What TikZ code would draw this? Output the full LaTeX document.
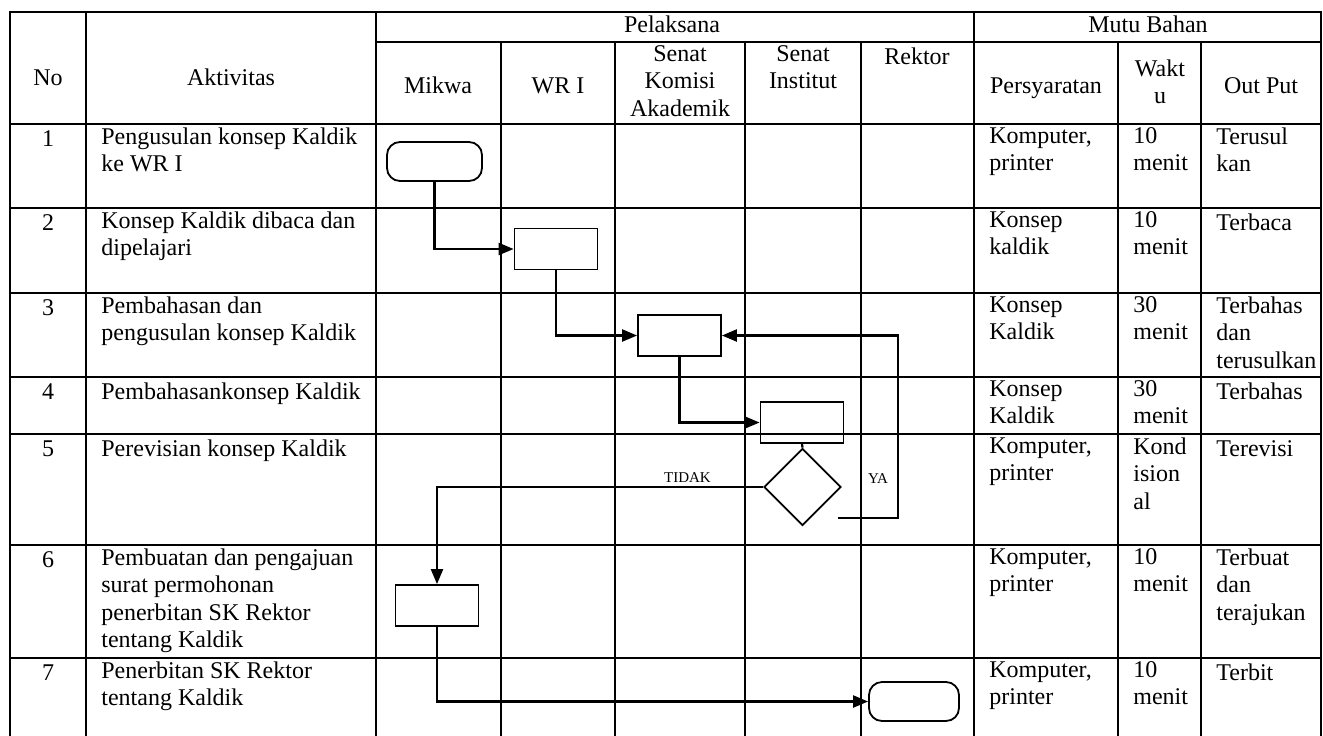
\documentclass[tikz,border=0pt]{standalone}
\usepackage{fontspec}
\setmainfont{Liberation Serif}
\usetikzlibrary{arrows.meta, shapes.geometric}

\begin{document}
\begin{tikzpicture}[
      x=0.5pt, y=-0.5pt,
      grid/.style={line width=1.1pt, line cap=rect},
      celltext/.style={
         font=\fontsize{12}{13.8}\selectfont,
         inner sep=0pt,
         align=left,
         anchor=north west,
         execute at begin node=\strut},
      headtext/.style={celltext, align=center, anchor=center},
      kotak/.style={
         draw,
         line width=0.9pt,
         minimum width=41.5pt,
         minimum height=20.5pt,
         inner sep=0pt},
      terminal/.style={kotak, rounded corners=6.5pt, minimum width=47.5pt, minimum height=19.5pt},
      keputusan/.style={draw, diamond, line width=0.9pt, minimum width=38.5pt, minimum height=38.5pt, inner sep=0pt},
      myarrow/.style={line width=1.1pt, -{Triangle[length=7.5pt,width=6pt]}},
      myline/.style={line width=1.1pt},
      kecil/.style={font=\fontsize{7.5}{9}\selectfont, inner sep=0pt}
      ]
      \useasboundingbox (0,0) rectangle (1323,735);

    % tabel
    \foreach \y in {12,124,208,293,377,434,545,658}
       \draw[grid] (10,\y) -- (1321,\y);
    \draw[grid] (376,42) -- (1321,42);
    \foreach \x in {10,86,376,974,1321}
       \draw[grid] (\x,12) -- (\x,735);
    \foreach \x in {501,615,745,861,1118,1201}
       \draw[grid] (\x,42) -- (\x,735);

      \node[headtext] (no) at (48,80) {No};
      \node[headtext] (aktivitas) at (231,80) {Aktivitas};
      \node[headtext] (pelaksana) at (672,27) {Pelaksana};
      \node[headtext] (mutu) at (1148,27) {Mutu Bahan};
      \node[headtext] (mikwa) at (438,88) {Mikwa};
      \node[headtext] (wr) at (558,88) {WR I};
      \node[headtext, anchor=north] (ska) at (680,45) {Senat\\Komisi\\Akademik};
      \node[headtext, anchor=north] (si) at (803,45) {Senat\\Institut};
      \node[headtext, anchor=north] (rektor) at (917,45) {Rektor};
      \node[headtext] (syarat) at (1046,88) {Persyaratan};
      \node[headtext] (waktu) at (1160,86) {Wakt\\u};
      \node[headtext] (output) at (1261,88) {Out Put};

    \foreach \y/\nomor/\akt/\syarat/\lama/\hasil in {% top/no/aktivitas/persyaratan/waktu/output
      124/1/{Pengusulan konsep Kaldik\\ke WR I}/{Komputer,\\printer}/{10\\menit}/{Terusul\\kan},
      208/2/{Konsep Kaldik dibaca dan\\dipelajari}/{Konsep\\kaldik}/{10\\menit}/{Terbaca},
      293/3/{Pembahasan dan\\pengusulan konsep Kaldik}/{Konsep\\Kaldik}/{30\\menit}/{Terbahas\\dan\\terusulkan},
      377/4/{Pembahasankonsep Kaldik}/{Konsep\\Kaldik}/{30\\menit}/{Terbahas},
      434/5/{Perevisian konsep Kaldik}/{Komputer,\\printer}/{Kond\\ision\\al}/{Terevisi},
      545/6/{Pembuatan dan pengajuan\\surat permohonan\\penerbitan SK Rektor\\tentang Kaldik}/{Komputer,\\printer}/{10\\menit}/{Terbuat\\dan\\terajukan},
      658/7/{Penerbitan SK Rektor\\tentang Kaldik}/{Komputer,\\printer}/{10\\menit}/{Terbit}
      }{
       \node[celltext, anchor=north] (no\nomor) at (48,\y+3) {\nomor};
       \node[celltext] (akt\nomor) at (101,\y+3) {\akt};
       \node[celltext] (syarat\nomor) at (989,\y+3) {\syarat};
       \node[celltext] (waktu\nomor) at (1133,\y+3) {\lama};
       \node[celltext] (hasil\nomor) at (1216,\y+3) {\hasil};
      }

    % alur
      \node[terminal] (mulai) at (434.5,161.5) {};
      \node[kotak] (baca) at (556,249) {};
      \node[kotak] (bahas) at (679.5,335.5) {};
      \node[kotak] (sidang) at (802,422.5) {};
      \node[keputusan] (cek) at (802.5,487) {};
      \node[kotak] (surat) at (437,605.5) {};
      \node[terminal, minimum width=45pt] (terbit) at (914,701.5) {};
      \coordinate (yaawal) at (838,518);
      \coordinate (yabelok) at (898,518);

    \foreach \i/\j in {mulai/baca, baca/bahas, bahas/sidang, surat/terbit}
       \draw[myarrow] (\i.south) |- (\j.west);
    \draw[myline] (sidang.south) -- (cek.north);
    \draw[myarrow] (cek.west) -| node[kecil, pos=0.116, above=1.5pt] (tidak) {TIDAK} (surat.north);
    \draw[myarrow] (yaawal) -- (yabelok) |- (bahas.east);
      \node[kecil] (ya) at (878,479) {YA};

    \end{tikzpicture}
\end{document}
